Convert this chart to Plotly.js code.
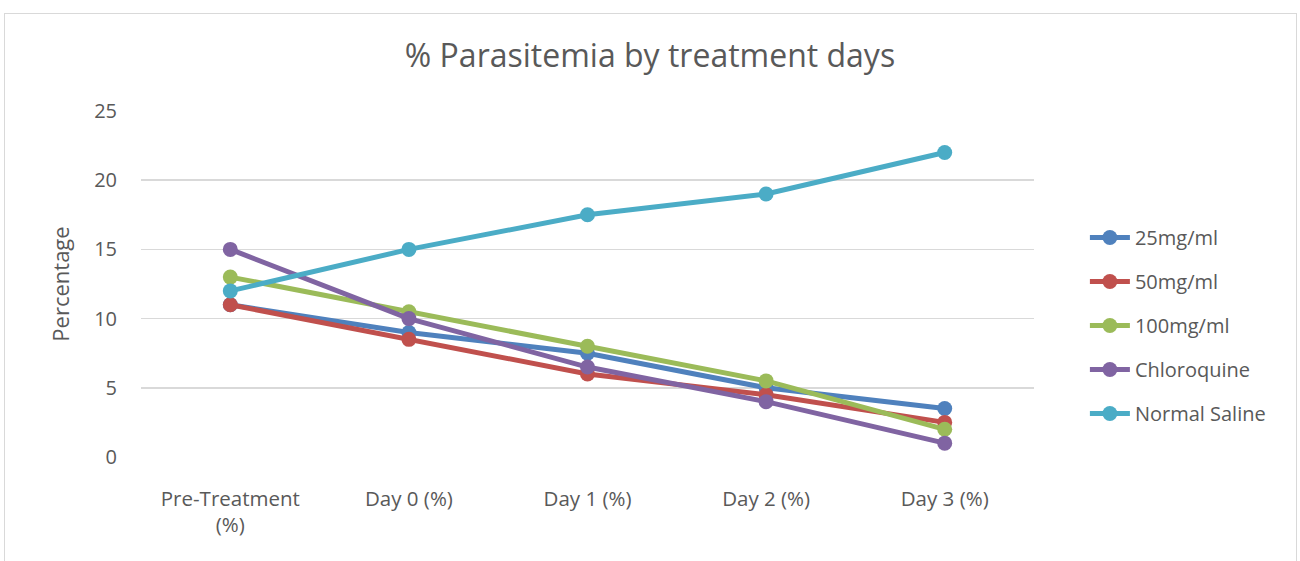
<!DOCTYPE html>
<html>
<head>
<meta charset="utf-8">
<script src="https://cdn.plot.ly/plotly-3.0.1.min.js"></script>
<style>
  html, body { margin: 0; padding: 0; background: #fff; }
  #wrap { position: relative; width: 1300px; height: 561px; }
  #chart { width: 1300px; height: 561px; }
  #frame { position: absolute; left: 4px; top: 13px; width: 1293px; height: 560px; border: 1px solid #d9d9d9; pointer-events: none; box-sizing: border-box; }
</style>
</head>
<body>
<div id="wrap">
  <div id="chart"></div>
  <div id="frame"></div>
</div>
<script>
const categories = ["Pre-Treatment<br>(%)", "Day 0 (%)", "Day 1 (%)", "Day 2 (%)", "Day 3 (%)"];
const seriesNames = ["25mg/ml", "50mg/ml", "100mg/ml", "Chloroquine", "Normal Saline"];
const v25 = [11, 9, 7.5, 5, 3.5];
const v50 = [11, 8.5, 6, 4.5, 2.5];
const v100 = [13, 10.5, 8, 5.5, 2];
const vChloroquine = [15, 10, 6.5, 4, 1];
const vSaline = [12, 15, 17.5, 19, 22];
const colors = ["#4F81BD", "#C0504D", "#9BBB59", "#8064A2", "#4BACC6"];
const allValues = [v25, v50, v100, vChloroquine, vSaline];

const traces = allValues.map((vals, i) => ({
  type: "scatter",
  mode: "lines+markers",
  x: categories,
  y: vals,
  name: seriesNames[i],
  legendgroup: "g" + i,
  line: { color: colors[i], width: 5 },
  marker: { color: colors[i], size: 15 }
}));

const font = "Open Sans, Liberation Sans, sans-serif";
const layout = {
  width: 1300,
  height: 561,
  margin: { l: 141, r: 266, t: 111, b: 104 },
  paper_bgcolor: "#ffffff",
  plot_bgcolor: "#ffffff",
  font: { family: font, color: "#595959", size: 20 },
  title: {
    text: "% Parasitemia by treatment days",
    font: { family: font, size: 32, color: "#595959" },
    x: 0.5, xref: "container", xanchor: "center",
    y: 58, yref: "container", yanchor: "middle"
  },
  xaxis: {
    type: "category",
    range: [-0.5, 4.5],
    showgrid: false,
    showline: false,
    zeroline: false,
    ticks: "",
    tickfont: { size: 20.5, color: "#595959" },
    ticklabelstandoff: 27
  },
  yaxis: {
    range: [0, 25],
    dtick: 5,
    showgrid: true,
    gridcolor: "#d9d9d9",
    gridwidth: 1.5,
    zeroline: false,
    showline: false,
    ticks: "",
    ticklabelstandoff: 23,
    tickfont: { size: 20, color: "#595959" },
    title: { text: "Percentage", font: { size: 22, color: "#595959" }, standoff: 18 }
  },
  showlegend: true,
  legend: {
    x: 1.057, xanchor: "left",
    y: 0.38, yanchor: "middle",
    font: { size: 20, color: "#595959" },
    tracegroupgap: 15,
    itemwidth: 40,
    bgcolor: "rgba(0,0,0,0)"
  }
};

Plotly.newPlot("chart", traces, layout, { displayModeBar: false, staticPlot: true });
</script>
</body>
</html>
